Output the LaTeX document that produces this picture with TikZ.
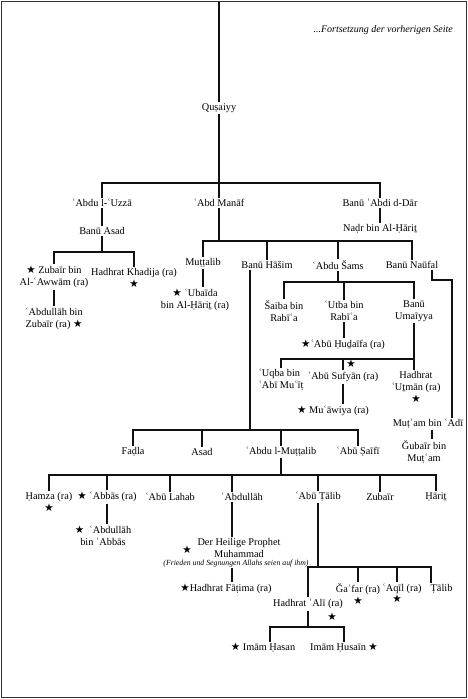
\documentclass[tikz,border=0pt]{standalone}
\usepackage{fontspec}
\setmainfont{Liberation Serif}
\newfontfamily\symfont{DejaVu Sans}
\usetikzlibrary{positioning}
\definecolor{inkline}{HTML}{111111}
\definecolor{framegray}{HTML}{333333}
\newcommand{\blackstar}{{\symfont\fontsize{10.5}{10}\selectfont\char"2605}}

\begin{document}
\begin{tikzpicture}[x=1pt, y=-1pt,
    person/.style={font=\fontsize{10.3}{12}\selectfont, align=center, inner sep=1.5pt},
    link/.style={inkline, line width=1.1pt},
    starlbl/.style={inner sep=0pt}]
  \useasboundingbox (0,0) rectangle (468,699);
  \draw[framegray, line width=1.4pt] (1.5,1.5) rectangle (466.5,697.5);
  \node[font=\fontsize{10}{11}\selectfont\itshape, anchor=east, inner sep=0pt] (cont) at (453,30) {...Fortsetzung der vorherigen Seite};

  % bars of the tree
  \coordinate (top) at (219,2);
  \coordinate (b0) at (0,183);
  \coordinate (b1) at (0,252);
  \coordinate (b2) at (0,241);
  \coordinate (b3) at (0,282);
  \coordinate (b4) at (0,359);
  \coordinate (hdrop) at (250,430);
  \coordinate (nturn) at (452,280);
  \coordinate (b6) at (0,475);
  \coordinate (aline) at (232,0);
  \coordinate (b7) at (431,567);
  \coordinate (b8) at (0,627);
  \coordinate (hl) at (270,627);

  \node[person] (qus) at (219,108) {Quṣaiyy};
  \node[person] (uzza) at (102,203) {ʿAbdu l-ʿUzzā};
  \node[person] (manaf) at (219,203) {ʿAbd Manāf};
  \node[person] (dar) at (380,203) {Banū ʿAbdi d-Dār};
  \node[person] (asad) at (102,231) {Banū Asad};
  \node[person] (nadr) at (380,229) {Naḍr bin Al-Ḥāriṯ};
  \node[person] (zubair) at (54,277) {\blackstar\ Zubaīr bin\\Al-ʿAwwām (ra)};
  \node[person] (khadija) at (134,278) {Hadhrat Khadija (ra)\\\blackstar};
  \node[person] (abdzub) at (54,319) {ʿAbdullāh bin\\Zubaīr (ra) \blackstar};

  \node[person] (mut) at (203,263) {Muṭṭalib};
  \node[person] (ubaida) at (195,300) {\blackstar\ ʿUbaīda\\bin Al-Ḥāriṯ (ra)};
  \node[person] (hasim) at (267,265) {Banū Hāšim};
  \node[person] (sams) at (338,265) {ʿAbdu Šams};
  \node[person] (naufal) at (412,265) {Banū Naūfal};

  \node[person] (saiba) at (284,311) {Šaiba bin\\Rabīʿa};
  \node[person] (utba) at (344,311) {ʿUtba bin\\Rabīʿa};
  \node[person] (umaiyya) at (414,311) {Banū\\Umaīyya};
  \node[person] (hudaifa) at (343,345) {\blackstar ʿAbū Ḥuḏaīfa (ra)};
  \node[person, align=left] (uqba) at (281,380) {ʿUqba bin\\ʿAbī Muʿīṭ};
  \node[person] (sufyan) at (343,377) {ʿAbū Sufyān (ra)};
  \node[starlbl] (sufstar) at (351,364) {\blackstar};
  \node[person] (uthman) at (416,387) {Hadhrat\\ʿUṯmān (ra)\\\blackstar};
  \node[person] (muawiya) at (333,411) {\blackstar\ Muʿāwiya (ra)};
  \node[person] (mutam) at (428,424) {Muṭʿam bin ʿAdī};
  \node[person] (gubair) at (424,452) {Ǧubaīr bin\\Muṭʿam};

  \node[person] (fadla) at (133,452) {Faḍla};
  \node[person] (asad2) at (202,452) {Asad};
  \node[person] (abdmut) at (281,452) {ʿAbdu l-Muṭṭalib};
  \node[person] (saifi) at (358,452) {ʿAbū Ṣaīfī};

  \node[person] (hamza) at (49,502) {Ḥamza (ra)\\\blackstar};
  \node[person] (abbas) at (107,497) {\blackstar\ ʿAbbās (ra)};
  \node[person] (abdabbas) at (103,536) {\blackstar\ \ ʿAbdullāh\\bin ʿAbbās};
  \node[person] (lahab) at (170,497) {ʿAbū Lahab};
  \node[person] (abdullah) at (242,497) {ʿAbdullāh};
  \node[person] (abutalib) at (318,497) {ʿAbū Ṭālib};
  \node[person] (zubair2) at (380,497) {Zubaīr};
  \node[person] (harith) at (436,497) {Ḥāriṯ};

  \node[person] (muh) at (239,548) {Der Heilige Prophet\\Muhammad};
  \node[starlbl] (muhstar) at (187,550) {\blackstar};
  \node[font=\fontsize{7.8}{9}\selectfont\itshape, inner sep=0.5pt] (frieden) at (236,564) {(Frieden und Segnungen Allahs seien auf ihm)};
  \node[person] (fatima) at (226,589) {\blackstar Hadhrat Fāṭima (ra)};

  \node[person] (ali) at (308,604) {Hadhrat ʿAlī (ra)};
  \node[starlbl] (alistar) at (332,617) {\blackstar};
  \node[person] (jafar) at (358,594) {Ǧaʿfar (ra)\\\blackstar};
  \node[person] (aqil) at (402,589) {ʿAqīl (ra)};
  \node[starlbl] (aqilstar) at (397,599) {\blackstar};
  \node[person, anchor=west] (talib) at (429,589) {Ṭālib};
  \node[person] (hasan) at (263,648) {\blackstar\ Imām Ḥasan};
  \node[person] (husain) at (344,648) {Imām Ḥusaīn \blackstar};

  % connectors
  \draw[link] (top) -- (qus);
  \draw[link] (qus) -- (manaf);
  \draw[link] (uzza) |- (dar |- b0) -- (dar);
  \draw[link] (uzza) -- (asad);
  \draw[link] (dar) -- (nadr);
  \draw[link] (asad) -- (asad |- b1);
  \draw[link] (zubair) |- (khadija |- b1) -- (khadija);
  \draw[link] (zubair) -- (abdzub);

  \draw[link] (manaf) -- (manaf |- b2);
  \draw[link] (mut) |- (naufal |- b2) -- (naufal);
  \draw[link] (hasim) -- (hasim |- b2);
  \draw[link] (sams) -- (sams |- b2);
  \draw[link] (mut) -- (mut |- ubaida.north);

  \draw[link] (sams) -- (sams |- b3);
  \draw[link] (saiba) |- (umaiyya |- b3) -- (umaiyya);
  \draw[link] (utba) -- (utba |- b3);
  \draw[link] (utba) -- (utba |- hudaifa.north);
  \draw[link] (umaiyya) -- (umaiyya |- uthman.north);
  \draw[link] (uqba) |- (umaiyya |- b4);
  \draw[link] (sufyan) -- (sufyan |- b4);
  \draw[link] (sufyan) -- (sufyan |- muawiya.north);
  \draw[link] ([xshift=20pt]naufal.south) |- (nturn) -- (nturn |- mutam.north);
  \draw[link] ([xshift=4pt]mutam.south) -- ([xshift=4pt]mutam.south |- gubair.north);

  \draw[link] (hasim.south -| hdrop) -- (hdrop);
  \draw[link] (fadla) |- (saifi |- hdrop) -- (saifi);
  \draw[link] (asad2) -- (asad2 |- hdrop);
  \draw[link] (abdmut) -- (abdmut |- hdrop);

  \draw[link] (abdmut) -- (abdmut |- b6);
  \draw[link] (hamza) |- (harith |- b6) -- (harith);
  \draw[link] (abbas) -- (abbas |- b6);
  \draw[link] (lahab) -- (lahab |- b6);
  \draw[link] (abdullah.north -| aline) -- (aline |- b6);
  \draw[link] (abutalib) -- (abutalib |- b6);
  \draw[link] (zubair2) -- (zubair2 |- b6);
  \draw[link] (abbas) -- (abbas |- abdabbas.north);
  \draw[link] (abdullah.south -| aline) -- (muh.north -| aline);
  \draw[link] (frieden.south -| aline) -- (fatima.north -| aline);

  \draw[link] (abutalib) -- (abutalib |- b7);
  \draw[link] (ali) |- (b7) -- (b7 |- talib.north);
  \draw[link] (jafar) -- (jafar |- b7);
  \draw[link] (aqilstar |- aqil.north) -- (aqilstar |- b7);
  \draw[link] (ali) -- (ali |- b8);
  \draw[link] (hl |- hasan.north) |- (husain |- b8) -- (husain);
\end{tikzpicture}
\end{document}
